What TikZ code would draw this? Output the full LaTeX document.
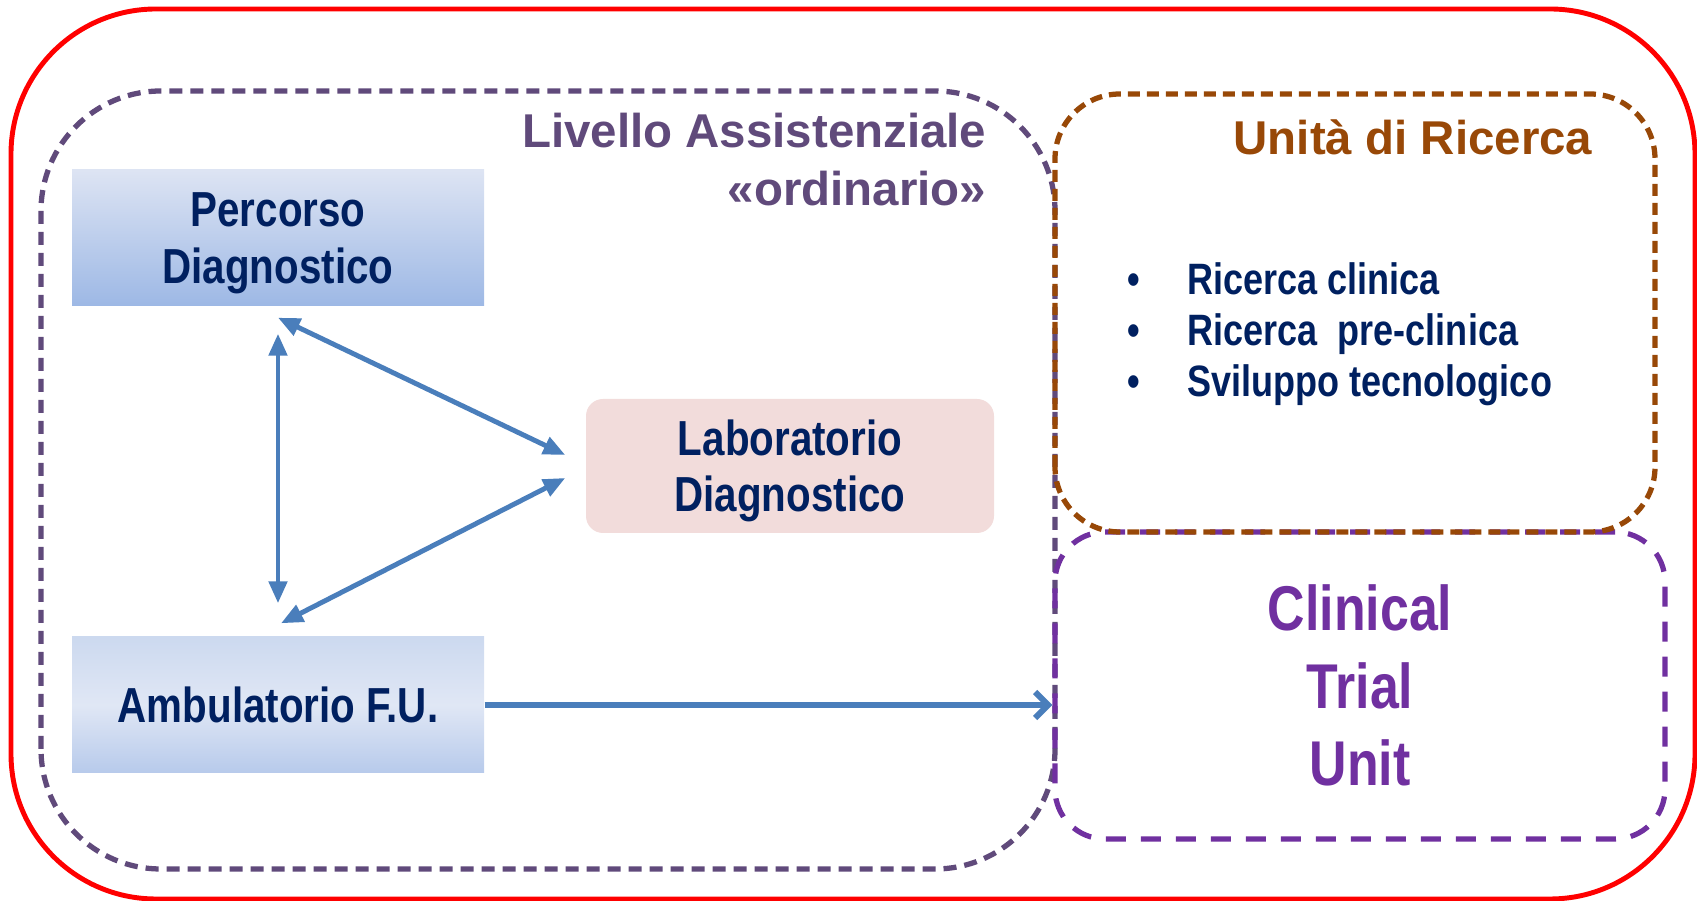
\documentclass[tikz,border=0pt]{standalone}
\usepackage{fontspec}
\setmainfont{Liberation Sans}
\newfontfamily\condfont[FakeStretch=0.82]{Liberation Sans}
\usetikzlibrary{arrows.meta,positioning,calc}

\definecolor{redline}{HTML}{FF0000}
\definecolor{levelpurple}{HTML}{604A7B}
\definecolor{brownline}{HTML}{984807}
\definecolor{ctupurple}{HTML}{7030A0}
\definecolor{navy}{HTML}{002060}
\definecolor{arrowblue}{HTML}{4A7EBB}
\definecolor{labpink}{HTML}{F2DCDB}

\newcommand\diagfont{\condfont\bfseries\fontsize{14pt}{16pt}\selectfont}

\begin{document}
\begin{tikzpicture}
	% Styles
	[
	outer/.style={draw=redline, line width=1.4pt, rounded corners=14.5mm},
	level/.style={draw=levelpurple, line width=1.5pt, dash pattern=on 1.3mm off 0.8mm, rounded corners=12mm},
	research/.style={draw=brownline, line width=1.5pt, dash pattern=on 1.2mm off 0.7mm, rounded corners=6.5mm},
	trial/.style={rectangle, draw=ctupurple, line width=1.5pt, dash pattern=on 2mm off 1.5mm, rounded corners=5mm, minimum width=6.1cm, minimum height=3.07cm, align=center, text=ctupurple, font=\condfont\bfseries\fontsize{18pt}{22pt}\selectfont},
	bluebox/.style={rectangle, minimum width=4.12cm, minimum height=1.36cm, align=center, text=navy, font=\diagfont, text depth=0pt},
	percbox/.style={bluebox, top color={rgb,255:red,221;green,228;blue,243}, bottom color={rgb,255:red,157;green,184;blue,229}},
	ambbox/.style={bluebox, top color={rgb,255:red,204;green,217;blue,239}, bottom color={rgb,255:red,183;green,202;blue,235}, middle color={rgb,255:red,224;green,231;blue,245}},
	labbox/.style={rectangle, rounded corners=1.7mm, fill=labpink, minimum width=4.08cm, minimum height=1.34cm, align=center, text=navy, font=\diagfont, text depth=0pt},
	biarrow/.style={{Triangle[length=2.2mm,width=1.8mm]}-{Triangle[length=2.2mm,width=1.8mm]}, draw=arrowblue, line width=1.4pt},
	toarrow/.style={-{Straight Barb[length=1.3mm,width=2.6mm]}, draw=arrowblue, line width=1.7pt},
	heading/.style={font=\bfseries\fontsize{13.5pt}{16.5pt}\selectfont, align=right, inner sep=0pt},
	bulletlist/.style={font=\condfont\bfseries\fontsize{12.5pt}{14.5pt}\selectfont, text=navy, align=left, inner sep=0pt}
	]
	\useasboundingbox (0,0) rectangle (16.97,9.01);

	% Frames
	\draw [outer] (0.11,0.02) rectangle (16.95,8.92);
	\draw [level] (0.41,0.32) rectangle (10.55,8.10);

	% Nodes
	\node at (2.78,6.63)	(perc)	[percbox] {Percorso\\Diagnostico};
	\node at (7.90,4.35)	(lab)	[labbox] {Laboratorio\\Diagnostico};
	\node at (2.78,1.96)	(amb)	[ambbox] {Ambulatorio F.U.};
	\node at (13.60,2.155)	(ctu)	[trial] {Clinical\\Trial\\Unit};
	\draw [research] (10.55,3.69) rectangle (16.55,8.07);

	% Labels
	\node at (9.87,7.41)	(livlabel)	[heading, anchor=east, text=levelpurple] {Livello Assistenziale\\«ordinario»};
	\node at (15.93,7.64)	(unilabel)	[heading, anchor=east, text=brownline] {Unità di Ricerca};
	\node at (11.27,5.665)	(bullets)	[bulletlist, anchor=west] {\makebox[6mm][l]{\textbullet}Ricerca clinica\\
		\makebox[6mm][l]{\textbullet}Ricerca\ \ pre-clinica\\
		\makebox[6mm][l]{\textbullet}Sviluppo tecnologico};

	% Connections
	\draw [biarrow] ([yshift=-1.1mm]perc.south) -- ([xshift=-2mm,yshift=1.1mm]lab.west);
	\draw [biarrow] ([xshift=0.3mm,yshift=1.3mm]amb.north) -- ([xshift=-2mm,yshift=-1.2mm]lab.west);
	\draw [biarrow] ([yshift=-2.7mm]perc.south) -- ([yshift=3.3mm]amb.north);
	\draw [toarrow] (amb.east) -- (amb.east -| ctu.west);

\end{tikzpicture}
\end{document}
